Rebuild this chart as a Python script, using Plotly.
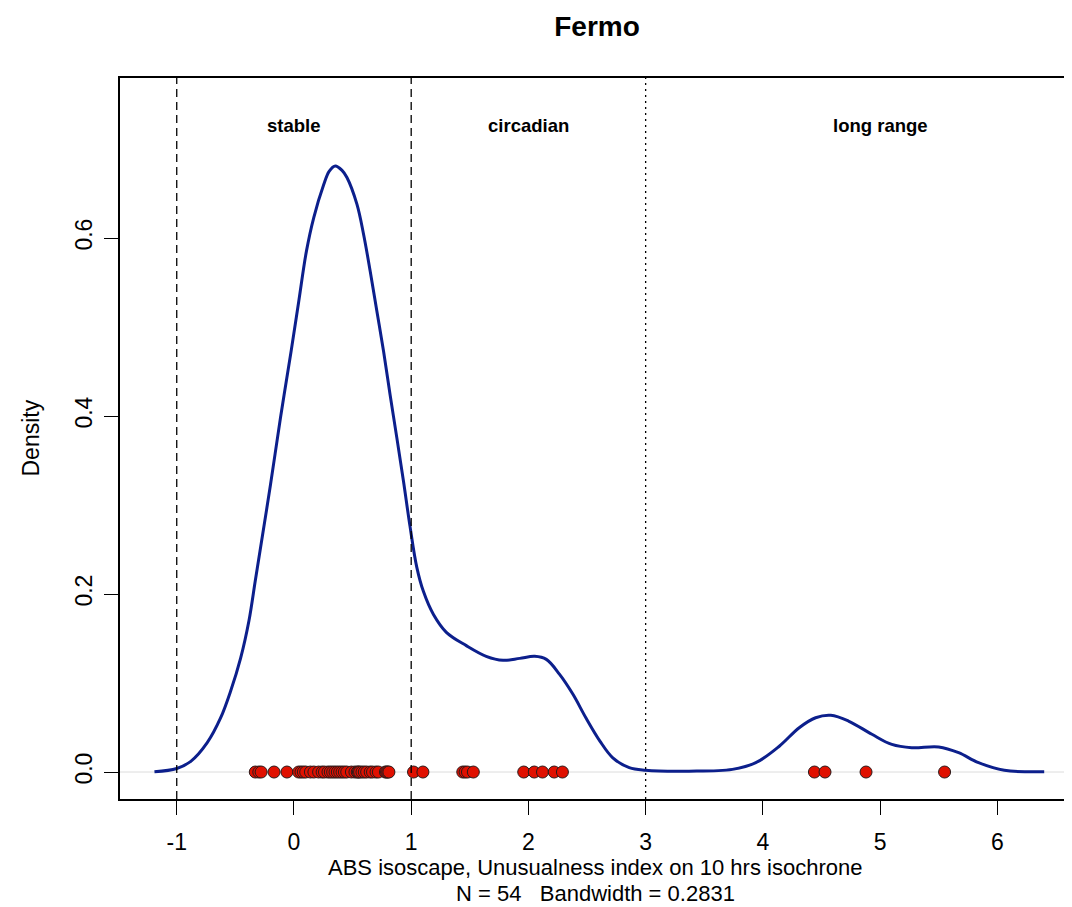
import plotly.graph_objects as go

# Density curve
curve_x = [-1.19, -1.0, -0.88, -0.74, -0.625, -0.54, -0.455, -0.384, -0.33, -0.29,
           -0.2, -0.115, -0.024, 0.041, 0.106, 0.169, 0.254, 0.30, 0.353, 0.41, 0.452, 0.537,
           0.594, 0.65, 0.707, 0.764, 0.82, 0.877, 0.934, 0.99, 1.048, 1.104,
           1.19, 1.30, 1.47, 1.64, 1.784, 1.926, 2.054, 2.153, 2.266, 2.38,
           2.49, 2.61, 2.72, 2.86, 3.0, 3.37, 3.74, 3.94, 4.14, 4.31,
           4.45, 4.58, 4.73, 4.93, 5.10, 5.27, 5.50, 5.67, 5.84, 6.06, 6.40]
curve_y = [0.0003, 0.004, 0.012, 0.033, 0.061, 0.091, 0.128, 0.170, 0.215, 0.248,
           0.323, 0.398, 0.473, 0.529, 0.585, 0.623, 0.660, 0.675, 0.681, 0.676, 0.668, 0.638,
           0.604, 0.563, 0.518, 0.473, 0.424, 0.376, 0.327, 0.276, 0.230, 0.203,
           0.177, 0.157, 0.142, 0.130, 0.1255, 0.1277, 0.130, 0.1266, 0.1097, 0.0873,
           0.061, 0.0348, 0.016, 0.0049, 0.002, 0.001, 0.003, 0.0105, 0.029, 0.0498,
           0.061, 0.0637, 0.0573, 0.0424, 0.031, 0.0273, 0.0281, 0.0217, 0.0105, 0.002, 0.0003]

# Observations (rug points)
obs_x = [-0.33, -0.30, -0.28, -0.17, -0.06, 0.04, 0.06, 0.08, 0.10, 0.14,
         0.17, 0.21, 0.24, 0.26, 0.29, 0.31, 0.33, 0.35, 0.37, 0.39,
         0.41, 0.43, 0.45, 0.49, 0.52, 0.54, 0.55, 0.56, 0.58, 0.60,
         0.62, 0.65, 0.67, 0.70, 0.72, 0.78, 0.79, 0.80, 0.81,
         1.02, 1.10, 1.44, 1.46, 1.48, 1.53, 1.96, 2.05, 2.12, 2.22, 2.29,
         4.44, 4.53, 4.88, 5.55]
obs_y = [0.0] * len(obs_x)

# Region boundaries and labels
boundary_x = [-1, 1, 3]
boundary_dash = ["8px,5px", "8px,5px", "2px,4px"]
region_labels = ["stable", "circadian", "long range"]
region_x = [0, 2, 5]
region_y = [0.726, 0.726, 0.726]

x_ticks = [-1, 0, 1, 2, 3, 4, 5, 6]
x_ticklabels = ["-1", "0", "1", "2", "3", "4", "5", "6"]
y_ticks = [0.0, 0.2, 0.4, 0.6]
y_ticklabels = ["0.0", "0.2", "0.4", "0.6"]

FONT = "Liberation Sans, Arial, Helvetica, sans-serif"
FS = 23

fig = go.Figure()
fig.add_trace(go.Scatter(x=curve_x, y=curve_y, mode="lines",
                         line=dict(color="#0c1f8c", width=3, shape="spline", smoothing=1.0),
                         showlegend=False, hoverinfo="skip"))
fig.add_trace(go.Scatter(x=obs_x, y=obs_y, mode="markers",
                         marker=dict(size=12, color="#e01000",
                                     line=dict(color="#2a1a1a", width=1)),
                         showlegend=False))

shapes = [dict(type="line", xref="paper", x0=0, x1=1, yref="y", y0=0, y1=0,
               line=dict(color="#dcdcdc", width=1), layer="below")]
for bx, bd in zip(boundary_x, boundary_dash):
    shapes.append(dict(type="line", xref="x", x0=bx, x1=bx, yref="paper", y0=0, y1=1,
                       line=dict(color="black", width=1.3, dash=bd)))

annotations = []
for lab, lx, ly in zip(region_labels, region_x, region_y):
    annotations.append(dict(x=lx, y=ly, xref="x", yref="y", text="<b>%s</b>" % lab,
                            showarrow=False, font=dict(size=18.5, color="black", family=FONT)))

annotations.append(dict(x=0.5, xref="paper", y=0, yref="paper", yshift=-68,
                        xanchor="center", yanchor="middle",
                        text="ABS isoscape, Unusualness index on 10 hrs isochrone",
                        showarrow=False, font=dict(size=22, color="black", family=FONT)))
annotations.append(dict(x=0.5, xref="paper", y=0, yref="paper", yshift=-94,
                        xanchor="center", yanchor="middle",
                        text="N = 54\u00a0\u00a0\u00a0Bandwidth = 0.2831",
                        showarrow=False, font=dict(size=22, color="black", family=FONT)))
annotations.append(dict(x=0, xref="paper", xshift=-90, y=0.5, yref="paper",
                        xanchor="center", yanchor="middle",
                        text="Density", textangle=-90,
                        showarrow=False, font=dict(size=FS, color="black", family=FONT)))

fig.update_layout(
    width=1064, height=899,
    margin=dict(l=112, r=0, t=70, b=108),
    paper_bgcolor="white", plot_bgcolor="white",
    title=dict(text="<b>Fermo</b>", x=0.5536, xanchor="center", y=0.980, yanchor="middle",
               font=dict(size=28, color="black", family=FONT)),
    shapes=shapes, annotations=annotations,
    font=dict(family=FONT, color="black"),
)
fig.update_xaxes(range=[-1.484, 6.62], tickvals=x_ticks, ticktext=x_ticklabels,
                 ticks="outside", ticklen=14,
                 tickcolor="black", tickwidth=1, showgrid=False, zeroline=False,
                 showline=True, linecolor="black", linewidth=1.5, mirror=True,
                 tickfont=dict(size=FS, color="black", family=FONT), ticklabelstandoff=8)
fig.update_yaxes(range=[-0.0303, 0.7798], tickvals=y_ticks, ticktext=y_ticklabels,
                 ticks="outside", ticklen=14, tickcolor="black", tickwidth=1,
                 showgrid=False, zeroline=False, tickangle=-90,
                 showline=True, linecolor="black", linewidth=1.5, mirror=True,
                 tickfont=dict(size=FS, color="black", family=FONT), ticklabelstandoff=3)

fig.write_html("out.html")
